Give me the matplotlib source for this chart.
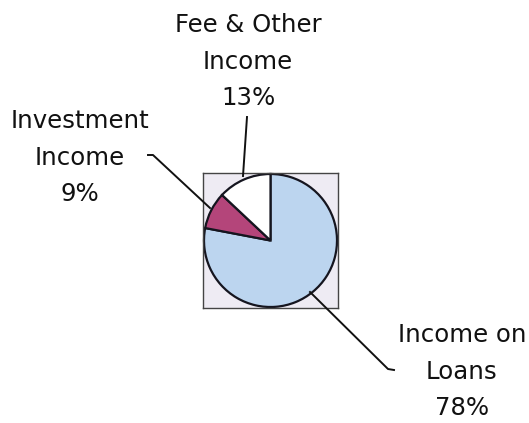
import matplotlib.pyplot as plt

# Revenue mix
labels = ['Income on\nLoans\n78%', 'Investment\nIncome\n9%', 'Fee & Other\nIncome\n13%']
shares = [78, 9, 13]
colors = ['#bcd5ef', '#b4457a', '#ffffff']

W, H = 529, 423
fig = plt.figure(figsize=(W / 100, H / 100), dpi=100)

# pie sits inside a small shaded plot area
box = (203, 173, 135, 135)  # left, top, width, height in px
ax = fig.add_axes([box[0] / W, 1 - (box[1] + box[3]) / H, box[2] / W, box[3] / H])
ax.set_facecolor('#eeebf3')
ax.pie(shares, colors=colors, startangle=90, counterclock=False,
       wedgeprops=dict(edgecolor='#15151f', linewidth=1.6), frame=True)
ax.set_xlim(-1.015, 1.015)
ax.set_ylim(-1.015, 1.015)
ax.set_xticks([])
ax.set_yticks([])
for s in ax.spines.values():
    s.set_color('#444444')
    s.set_linewidth(1.0)

# overlay in pixel coords for labels and leader lines
ov = fig.add_axes([0, 0, 1, 1])
ov.set_xlim(0, W)
ov.set_ylim(H, 0)
ov.axis('off')
ov.patch.set_alpha(0)

label_pos = [(462, 323), (80, 109), (248, 13)]
leaders = [
    ([310, 388, 394], [292, 369, 370]),
    ([148, 153, 210], [155, 155, 208]),
    ([247, 243], [117, 176]),
]
for lab, (x, y), (lx, ly) in zip(labels, label_pos, leaders):
    ov.text(x, y, lab, ha='center', va='top', fontsize=17.6,
            linespacing=1.66, color='#111111', family='DejaVu Sans')
    ov.plot(lx, ly, color='#111111', linewidth=1.4)

fig.savefig('out.png', dpi=100)
